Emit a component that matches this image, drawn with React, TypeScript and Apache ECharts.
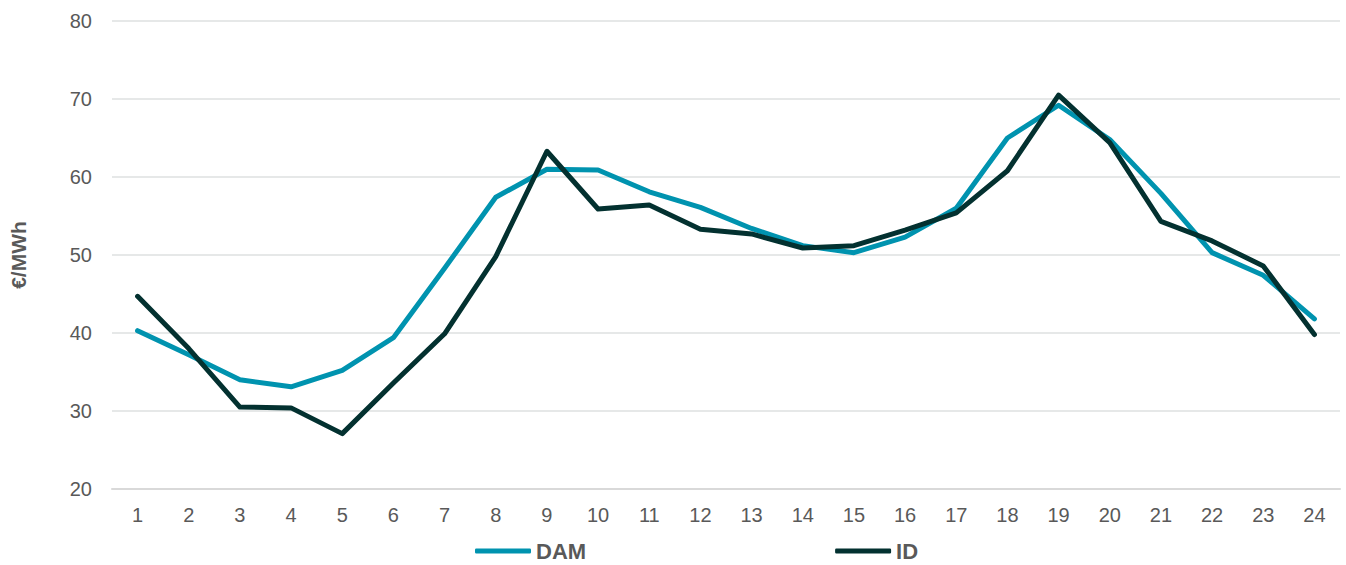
import React, { useEffect, useRef } from "react";
import * as echarts from "echarts";

const hours = ["1","2","3","4","5","6","7","8","9","10","11","12","13","14","15","16","17","18","19","20","21","22","23","24"];
const damValues = [40.3, 37.2, 34.0, 33.1, 35.2, 39.4, 48.3, 57.4, 61.0, 60.9, 58.1, 56.1, 53.4, 51.2, 50.3, 52.3, 56.0, 65.0, 69.2, 64.8, 57.9, 50.3, 47.4, 41.8];
const idValues = [44.7, 38.0, 30.5, 30.4, 27.1, 33.6, 39.9, 49.8, 63.3, 55.9, 56.4, 53.3, 52.7, 50.9, 51.2, 53.2, 55.4, 60.8, 70.5, 64.4, 54.3, 51.8, 48.6, 39.8];
const seriesNames = ["DAM", "ID"];
const yTicks = { min: 20, max: 80, interval: 10 };
const yAxisTitle = "€/MWh";

const FONT = "'Liberation Sans', Arial, sans-serif";
const TEXT = "#595959";

export default function App() {
  const ref = useRef<HTMLDivElement>(null);
  useEffect(() => {
    if (!ref.current) return;
    const chart = echarts.init(ref.current, undefined, { renderer: "svg" });
    chart.setOption({
      animation: false,
      textStyle: { fontFamily: FONT },
      grid: { left: 110, right: 6, top: 21, bottom: 76 },
      legend: {
        left: 475,
        top: 540,
        padding: 0,
        itemGap: 249,
        itemWidth: 56,
        itemHeight: 5,
        itemTextGap: 5,
        icon: "roundRect",
        textStyle: { fontFamily: FONT, fontSize: 22, lineHeight: 22, fontWeight: "bold", color: TEXT },
        data: seriesNames,
      },
      xAxis: {
        type: "category",
        data: hours,
        boundaryGap: true,
        axisLine: { show: true, lineStyle: { color: "#d9d9d9", width: 2 } },
        axisTick: { show: false },
        axisLabel: { color: TEXT, fontSize: 20, fontFamily: FONT, margin: 16, interval: 0 },
      },
      yAxis: {
        type: "value",
        min: yTicks.min,
        max: yTicks.max,
        interval: yTicks.interval,
        name: yAxisTitle,
        nameLocation: "middle",
        nameGap: 83,
        nameRotate: 90,
        nameTextStyle: { color: TEXT, fontSize: 21, fontWeight: "bold", fontFamily: FONT },
        axisLine: { show: false },
        axisTick: { show: false },
        axisLabel: { color: TEXT, fontSize: 20, fontFamily: FONT, margin: 20 },
        splitLine: { show: true, lineStyle: { color: "#e6e8e8", width: 2 } },
      },
      series: [
        {
          name: seriesNames[0],
          type: "line",
          data: damValues,
          symbol: "none",
          lineStyle: { color: "#0093AF", width: 5, cap: "round", join: "round" },
          itemStyle: { color: "#0093AF" },
        },
        {
          name: seriesNames[1],
          type: "line",
          data: idValues,
          symbol: "none",
          lineStyle: { color: "#033130", width: 5, cap: "round", join: "round" },
          itemStyle: { color: "#033130" },
        },
      ],
    });
    return () => chart.dispose();
  }, []);
  return <div ref={ref} style={{ width: 1346, height: 565, position: "absolute", left: 0, top: 0 }} />;
}
